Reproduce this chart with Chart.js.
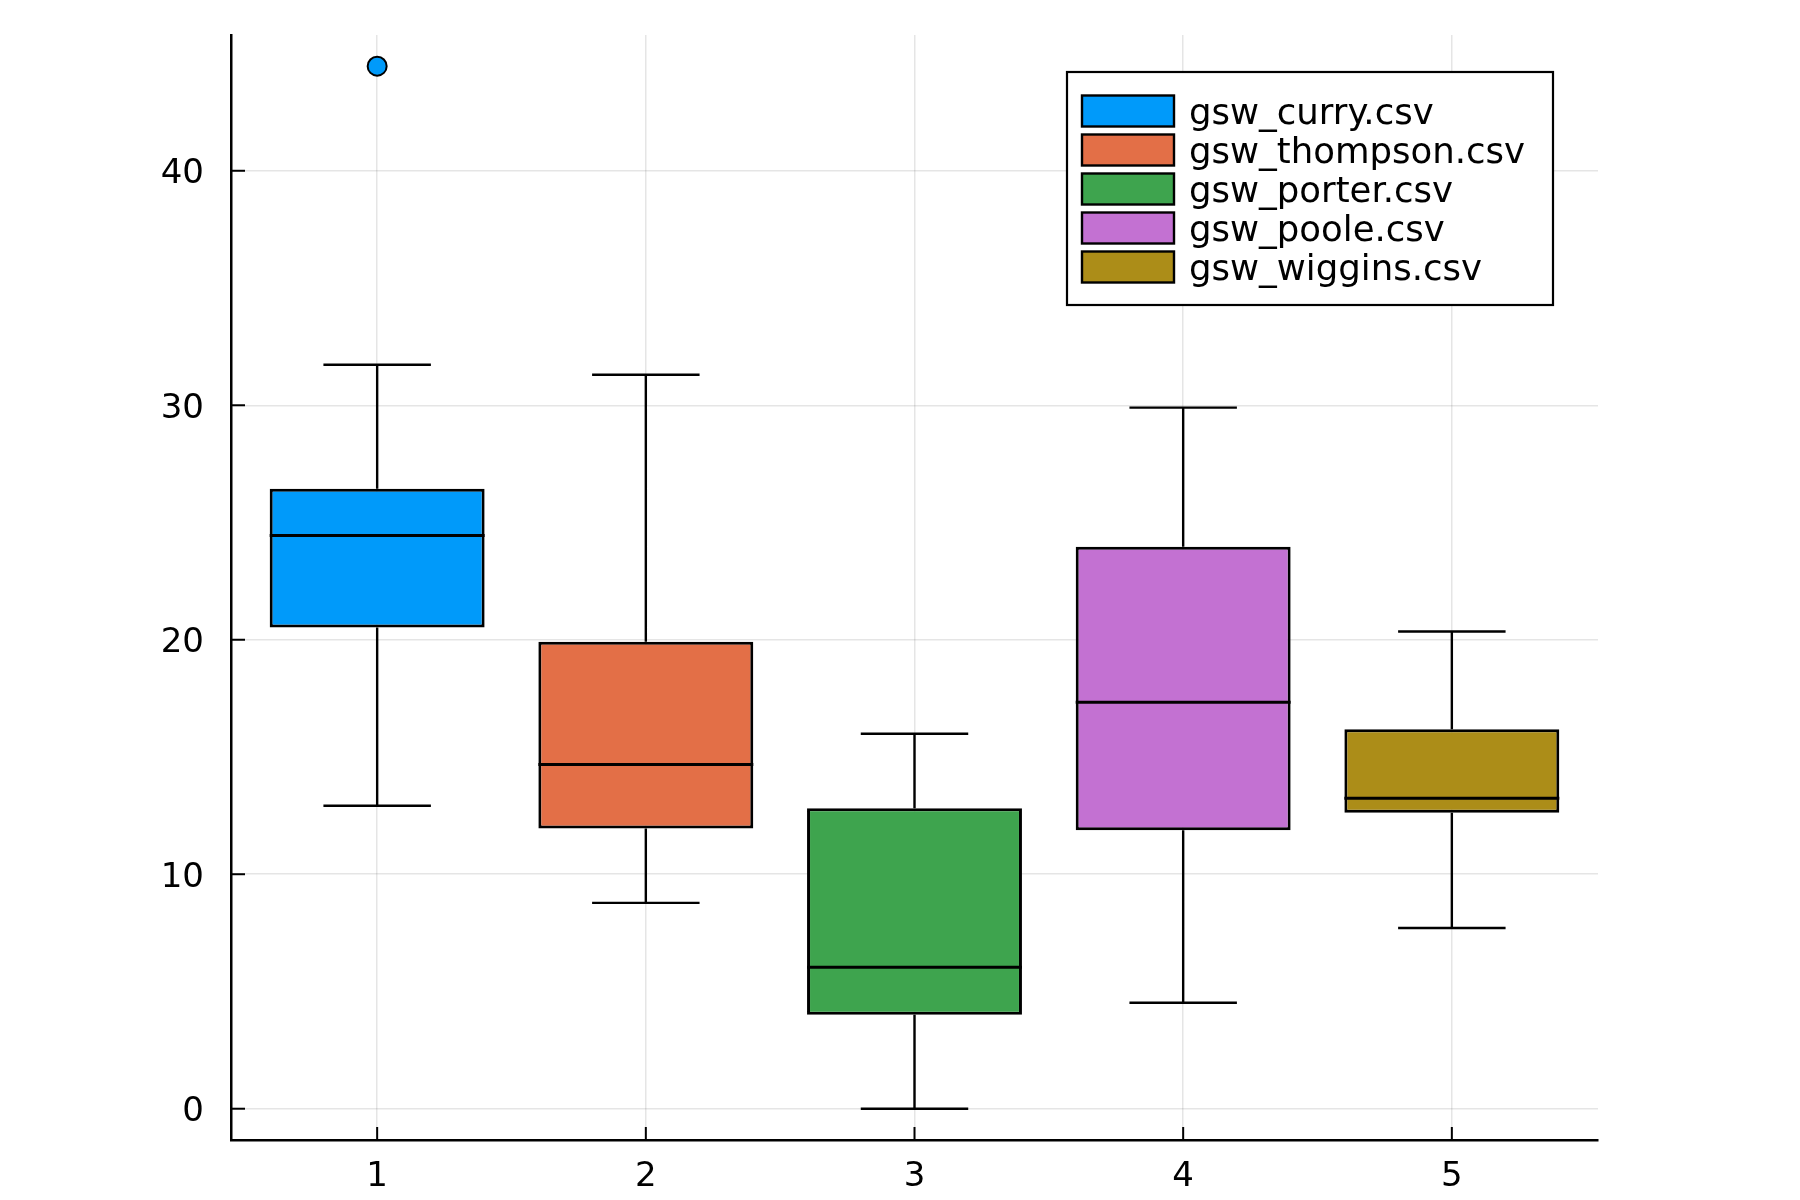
<!DOCTYPE html>
<html><head><meta charset="utf-8">
<script src="https://cdn.jsdelivr.net/npm/chart.js@4.4.1/dist/chart.umd.min.js"></script>
<style>html,body{margin:0;padding:0;background:#fff}canvas{display:block}</style>
</head><body>
<canvas id="c" width="1800" height="1200"></canvas>
<script>
// ---- data ----
const categories = [1, 2, 3, 4, 5];
const seriesLabels = ['gsw_curry.csv', 'gsw_thompson.csv', 'gsw_porter.csv', 'gsw_poole.csv', 'gsw_wiggins.csv'];
const lowerWhisker = [12.92, 8.78, 0.0, 4.52, 7.71];
const q1Values = [20.52, 11.95, 4.01, 11.88, 12.62];
const medianValues = [24.45, 14.68, 6.03, 17.33, 13.24];
const q3Values = [26.44, 19.91, 12.81, 23.97, 16.18];
const upperWhisker = [31.73, 31.30, 15.99, 29.90, 20.35];
const outlierX = [1];
const outlierY = [44.46];
const xTicks = [1, 2, 3, 4, 5];
const yTicks = [0, 10, 20, 30, 40];

// ---- styles ----
const colors = ['#009AFA', '#E36F47', '#3EA44E', '#C371D2', '#AC8D18'];
const FONT = '"DejaVu Sans", "Liberation Sans", sans-serif';
const BOX_HALF = 0.4, CAP_HALF = 0.2;

const boxDatasets = categories.map((c, i) => ({
  type: 'bar',
  label: seriesLabels[i],
  data: [{ x: c, y: [q1Values[i], q3Values[i]] }],
  backgroundColor: colors[i],
  borderColor: '#000',
  borderWidth: 3,
  borderSkipped: false,
  grouped: false,
  barPercentage: 0.8,
  categoryPercentage: 1,
  order: 3
}));

const whiskerPts = [];
const medianPts = [];
categories.forEach((c, i) => {
  whiskerPts.push({ x: c, y: upperWhisker[i] }, { x: c, y: q3Values[i] }, { x: c, y: null });
  whiskerPts.push({ x: c, y: q1Values[i] }, { x: c, y: lowerWhisker[i] }, { x: c, y: null });
  whiskerPts.push({ x: c - CAP_HALF, y: upperWhisker[i] }, { x: c + CAP_HALF, y: upperWhisker[i] }, { x: c, y: null });
  whiskerPts.push({ x: c - CAP_HALF, y: lowerWhisker[i] }, { x: c + CAP_HALF, y: lowerWhisker[i] }, { x: c, y: null });
  medianPts.push({ x: c - BOX_HALF, y: medianValues[i] }, { x: c + BOX_HALF, y: medianValues[i] }, { x: c, y: null });
});

const lineDatasets = [
  { type: 'line', label: '_whiskers', data: whiskerPts, borderColor: '#000', borderWidth: 2.4,
    pointRadius: 0, spanGaps: false, fill: false, order: 2 },
  { type: 'line', label: '_medians', data: medianPts, borderColor: '#000', borderWidth: 3,
    pointRadius: 0, spanGaps: false, fill: false, order: 1 },
  { type: 'scatter', label: '_outliers', data: outlierX.map((x, k) => ({ x: x, y: outlierY[k] })),
    pointRadius: 9.5, pointBackgroundColor: colors[0], pointBorderColor: '#000', pointBorderWidth: 2, order: 0 }
];

const innerTicks = {
  id: 'innerTicks',
  afterDraw(chart) {
    const { ctx, chartArea: a, scales: { x, y } } = chart;
    ctx.save();
    ctx.strokeStyle = '#000';
    ctx.lineWidth = 2;
    xTicks.forEach(v => {
      const px = x.getPixelForValue(v);
      ctx.beginPath(); ctx.moveTo(px, a.bottom); ctx.lineTo(px, a.bottom - 13); ctx.stroke();
    });
    yTicks.forEach(v => {
      const py = y.getPixelForValue(v);
      ctx.beginPath(); ctx.moveTo(a.left, py); ctx.lineTo(a.left + 14, py); ctx.stroke();
    });
    ctx.restore();
  }
};

const insideLegend = {
  id: 'insideLegend',
  afterDraw(chart) {
    const { ctx, chartArea: a } = chart;
    const w = 486, h = 233;
    const left = a.right - 45 - w, top = a.top + 37;
    ctx.save();
    ctx.fillStyle = '#fff';
    ctx.fillRect(left, top, w, h);
    ctx.strokeStyle = '#000';
    ctx.lineWidth = 2.2;
    ctx.strokeRect(left, top, w, h);
    ctx.font = '35.5px ' + FONT;
    ctx.textBaseline = 'middle';
    ctx.textAlign = 'left';
    chart.data.datasets.filter(d => d.type === 'bar').forEach((d, i) => {
      const sy = top + 23.5 + i * 39;
      const sx = left + 15;
      ctx.fillStyle = d.backgroundColor;
      ctx.fillRect(sx, sy, 92, 31);
      ctx.lineWidth = 2.4;
      ctx.strokeStyle = '#000';
      ctx.strokeRect(sx, sy, 92, 31);
      ctx.fillStyle = '#000';
      ctx.fillText(d.label, sx + 107, sy + 19);
    });
    ctx.restore();
  }
};

new Chart(document.getElementById('c'), {
  type: 'bar',
  data: { datasets: [...boxDatasets, ...lineDatasets] },
  plugins: [innerTicks, insideLegend],
  options: {
    responsive: false,
    animation: false,
    layout: { padding: { left: 0, top: 35, right: 202, bottom: 0 } },
    plugins: { legend: { display: false }, tooltip: { enabled: false } },
    scales: {
      x: {
        type: 'linear', min: 0.456, max: 5.544, offset: false,
        afterFit: s => { s.height = 60; s.paddingLeft = 0; s.paddingRight = 0; },
        afterBuildTicks: s => { s.ticks = xTicks.map(v => ({ value: v })); },
        grid: { color: 'rgba(0,0,0,0.1)', lineWidth: 1.5, drawTicks: false, offset: false },
        border: { color: '#000', width: 2.5 },
        ticks: { color: '#000', font: { family: FONT, size: 34 }, padding: 17, maxRotation: 0 }
      },
      y: {
        type: 'linear', min: -1.334, max: 45.79,
        afterFit: s => { s.width = 231; s.paddingTop = 0; s.paddingBottom = 0; },
        afterBuildTicks: s => { s.ticks = yTicks.map(v => ({ value: v })); },
        grid: { color: 'rgba(0,0,0,0.1)', lineWidth: 1.5, drawTicks: false },
        border: { color: '#000', width: 2.5 },
        ticks: { color: '#000', font: { family: FONT, size: 34 }, padding: 27, labelOffset: 3.5 }
      }
    }
  }
});
</script>
</body></html>
